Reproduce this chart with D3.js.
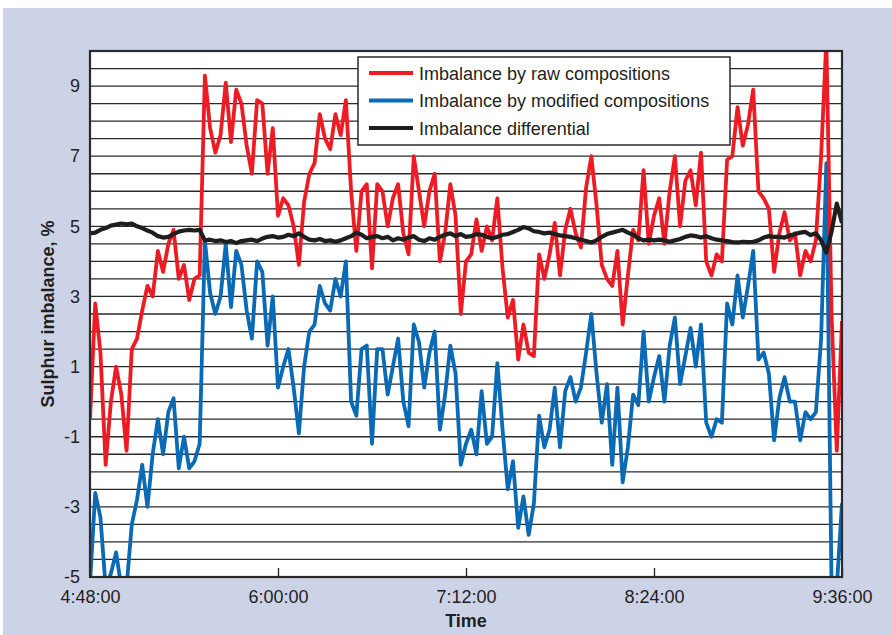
<!DOCTYPE html>
<html>
<head>
<meta charset="utf-8">
<script src="https://cdn.jsdelivr.net/npm/d3@7"></script>
<style>
  html, body { margin: 0; padding: 0; background: #fff; }
  svg { display: block; }
  text { font-family: "Liberation Sans", Arial, sans-serif; fill: #231f20; }
</style>
</head>
<body>
<div id="chart"></div>
<script>
// readings every 2 minutes starting at 4:48:00
const startTime = new Date(2000, 0, 1, 4, 48, 0);
const stepMinutes = 2;

const rawImbalance = [
  -0.5, 2.8, 1.4, -1.8, 0.0, 1.0, 0.2, -1.4, 1.5, 1.8,
  2.6, 3.3, 3.0, 4.3, 3.7, 4.5, 4.9, 3.5, 3.9, 2.9,
  3.5, 3.6, 9.3, 7.8, 7.1, 7.6, 9.1, 7.4, 8.9, 8.5,
  7.3, 6.5, 8.6, 8.5, 6.5, 7.8, 5.3, 5.8, 5.6, 5.0,
  3.9, 5.7, 6.5, 6.8, 8.2, 7.5, 7.2, 8.2, 7.6, 8.6,
  6.0, 4.3, 6.0, 6.2, 3.8, 6.2, 6.0, 5.0, 5.8, 6.2,
  4.8, 4.2, 7.0, 6.0, 5.0, 6.0, 6.5, 4.0, 4.8, 6.2,
  5.3, 2.5, 4.0, 4.2, 5.2, 4.3, 5.0, 4.6, 5.8, 3.8,
  2.4, 2.9, 1.2, 2.2, 1.4, 1.3, 4.2, 3.5, 4.2, 5.1,
  3.6, 4.9, 5.5, 4.8, 4.4, 6.1, 7.0, 5.6, 3.9, 3.5,
  3.3, 4.3, 2.2, 3.6, 4.9, 4.6, 6.6, 4.5, 5.3, 5.8,
  4.5, 6.0, 7.0, 5.0, 6.3, 6.6, 5.6, 7.1, 4.0, 3.6,
  4.2, 4.0, 6.9, 7.0, 8.4, 7.3, 7.9, 8.9, 6.0, 5.8,
  5.5, 3.7, 4.8, 5.4, 4.6, 4.8, 3.6, 4.3, 4.0, 4.6,
  7.0, 10.3, 2.5, -1.4, 2.3
];

const modifiedImbalance = [
  -5.2, -2.6, -3.3, -5.3, -4.9, -4.3, -5.3, -5.3, -3.5, -2.8,
  -1.8, -3.0, -1.5, -0.5, -1.5, -0.3, 0.1, -1.9, -1.0, -1.9,
  -1.7, -1.2, 4.6, 3.1, 2.5, 3.0, 4.5, 2.7, 4.3, 3.9,
  2.6, 1.8, 4.0, 3.7, 1.6, 3.0, 0.4, 1.0, 1.5, 0.4,
  -0.9, 1.0, 2.0, 2.2, 3.3, 2.8, 2.6, 3.5, 3.0, 4.0,
  0.0, -0.4, 1.5, 1.6, -1.2, 1.5, 1.5, 0.2, 1.0, 1.8,
  0.0, -0.7, 2.2, 1.7, 0.4, 1.4, 2.0, -0.8, 0.2, 1.6,
  0.8, -1.8, -1.2, -0.8, -1.5, 0.3, -1.2, -1.0, 1.1, -0.8,
  -2.5, -1.7, -3.6, -2.7, -3.8, -2.9, -0.4, -1.3, -0.8, 0.4,
  -1.3, 0.3, 0.7, 0.0, 0.4, 1.4, 2.5, 0.8, -0.6, 0.5,
  -1.8, 0.4, -2.3, -1.3, 0.2, -0.1, 2.0, 0.0, 0.7, 1.3,
  0.0, 1.6, 2.4, 0.5, 1.3, 2.1, 1.0, 2.2, -0.6, -1.0,
  -0.5, -0.6, 2.8, 2.2, 3.6, 2.4, 3.3, 4.3, 1.2, 1.4,
  0.8, -1.1, 0.1, 0.7, 0.0, 0.0, -1.1, -0.3, -0.5, -0.3,
  1.8, 6.8, -5.3, -5.3, -2.9
];

const differential = [
  4.80, 4.82, 4.90, 4.95, 5.02, 5.05, 5.08, 5.06, 5.08, 5.00,
  4.95, 4.88, 4.82, 4.72, 4.68, 4.70, 4.78, 4.85, 4.88, 4.90,
  4.88, 4.90, 4.60, 4.62, 4.58, 4.60, 4.55, 4.58, 4.52, 4.58,
  4.60, 4.62, 4.58, 4.65, 4.70, 4.72, 4.68, 4.70, 4.76, 4.72,
  4.80, 4.70, 4.62, 4.60, 4.64, 4.58, 4.60, 4.56, 4.60, 4.66,
  4.72, 4.82, 4.76, 4.66, 4.70, 4.72, 4.66, 4.70, 4.60, 4.66,
  4.62, 4.68, 4.72, 4.62, 4.58, 4.66, 4.62, 4.70, 4.76, 4.80,
  4.72, 4.78, 4.70, 4.72, 4.78, 4.76, 4.70, 4.66, 4.70, 4.76,
  4.78, 4.84, 4.90, 4.98, 4.94, 4.86, 4.84, 4.80, 4.82, 4.78,
  4.74, 4.72, 4.70, 4.66, 4.62, 4.58, 4.54, 4.60, 4.70, 4.78,
  4.82, 4.86, 4.90, 4.82, 4.76, 4.66, 4.60, 4.62, 4.60, 4.62,
  4.60, 4.56, 4.60, 4.64, 4.70, 4.74, 4.72, 4.68, 4.72, 4.66,
  4.62, 4.60, 4.58, 4.55, 4.54, 4.56, 4.55, 4.56, 4.60, 4.68,
  4.72, 4.70, 4.70, 4.68, 4.74, 4.78, 4.82, 4.84, 4.75, 4.80,
  4.60, 4.25, 4.85, 5.65, 5.10
];

const yTickValues = [-5, -3, -1, 1, 3, 5, 7, 9];
const xTickLabels = ["4:48:00", "6:00:00", "7:12:00", "8:24:00", "9:36:00"];
const seriesNames = [
  "Imbalance by raw compositions",
  "Imbalance by modified compositions",
  "Imbalance differential"
];
const seriesColors = ["#ed1c24", "#0a6ab6", "#1e1e1e"];

const W = 892, H = 635;
const margin = { left: 90, right: 50, top: 51, bottom: 58 };
const innerW = W - margin.left - margin.right;
const innerH = H - margin.top - margin.bottom;

const svg = d3.select("#chart").append("svg")
  .attr("width", W)
  .attr("height", H);

// lavender backdrop
svg.append("rect")
  .attr("x", 3).attr("y", 8)
  .attr("width", W - 3).attr("height", H - 8)
  .attr("fill", "#cdd3e6");

const g = svg.append("g").attr("transform", `translate(${margin.left},${margin.top})`);

const endTime = d3.timeMinute.offset(startTime, 288);
const x = d3.scaleTime().domain([startTime, endTime]).range([0, innerW]);
const y = d3.scaleLinear().domain([-5, 10]).range([innerH, 0]);

g.append("rect")
  .attr("width", innerW).attr("height", innerH)
  .attr("fill", "#fff");

// horizontal grid every 0.5
g.append("g")
  .selectAll("line")
  .data(d3.range(-4.5, 10, 0.5))
  .join("line")
  .attr("x1", 0).attr("x2", innerW)
  .attr("y1", d => y(d)).attr("y2", d => y(d))
  .attr("stroke", "#2a2a2a")
  .attr("stroke-width", 1.3);

// x axis ticks (inward)
const xTicks = xTickLabels.map(s => {
  const [h, m, sec] = s.split(":").map(Number);
  return new Date(2000, 0, 1, h, m, sec);
});
const xAxis = g.append("g")
  .attr("transform", `translate(0,${innerH})`)
  .call(d3.axisBottom(x)
    .tickValues(xTicks)
    .tickFormat((d, i) => xTickLabels[i])
    .tickSizeInner(-9)
    .tickSizeOuter(0)
    .tickPadding(13));
xAxis.select(".domain").remove();
xAxis.selectAll("line").attr("stroke", "#222").attr("stroke-width", 1.3);
xAxis.selectAll("text")
  .attr("font-size", 18)
  .attr("font-family", "Liberation Sans, Arial, sans-serif")
  .attr("fill", "#231f20");

const yAxis = g.append("g")
  .call(d3.axisLeft(y)
    .tickValues(yTickValues)
    .tickFormat(d => String(d))
    .tickSize(0)
    .tickPadding(10));
yAxis.select(".domain").remove();
yAxis.selectAll("text")
  .attr("font-size", 18)
  .attr("font-family", "Liberation Sans, Arial, sans-serif")
  .attr("fill", "#231f20");

// lines
g.append("clipPath").attr("id", "plotClip")
  .append("rect").attr("width", innerW).attr("height", innerH);

const line = d3.line()
  .x((d, i) => x(d3.timeMinute.offset(startTime, i * stepMinutes)))
  .y(d => y(d));

const allSeries = [rawImbalance, modifiedImbalance, differential];
const lines = g.append("g").attr("clip-path", "url(#plotClip)");
[1, 0, 2].forEach(k => {
  lines.append("path")
    .datum(allSeries[k])
    .attr("d", line)
    .attr("fill", "none")
    .attr("stroke", seriesColors[k])
    .attr("stroke-width", k === 2 ? 4.2 : 3.8)
    .attr("stroke-linejoin", "round");
});

// frame
g.append("rect")
  .attr("width", innerW).attr("height", innerH)
  .attr("fill", "none")
  .attr("stroke", "#2a2a2a")
  .attr("stroke-width", 2.2);

// legend
const legend = g.append("g").attr("transform", "translate(268,6)");
legend.append("rect")
  .attr("width", 372).attr("height", 88)
  .attr("fill", "#fff")
  .attr("stroke", "#2a2a2a")
  .attr("stroke-width", 1.5);
seriesNames.forEach((name, i) => {
  const ly = 16 + i * 27.5;
  legend.append("line")
    .attr("x1", 11).attr("x2", 55)
    .attr("y1", ly).attr("y2", ly)
    .attr("stroke", seriesColors[i])
    .attr("stroke-width", 4);
  legend.append("text")
    .attr("x", 61).attr("y", ly + 6.5)
    .attr("font-size", 18)
    .text(name);
});

// axis titles
svg.append("text")
  .attr("x", margin.left + innerW / 2)
  .attr("y", 627)
  .attr("text-anchor", "middle")
  .attr("font-size", 18)
  .attr("font-weight", "bold")
  .text("Time");

svg.append("text")
  .attr("transform", `translate(54,${margin.top + innerH / 2}) rotate(-90)`)
  .attr("text-anchor", "middle")
  .attr("font-size", 18)
  .attr("font-weight", "bold")
  .text("Sulphur imbalance, %");
</script>
</body>
</html>
